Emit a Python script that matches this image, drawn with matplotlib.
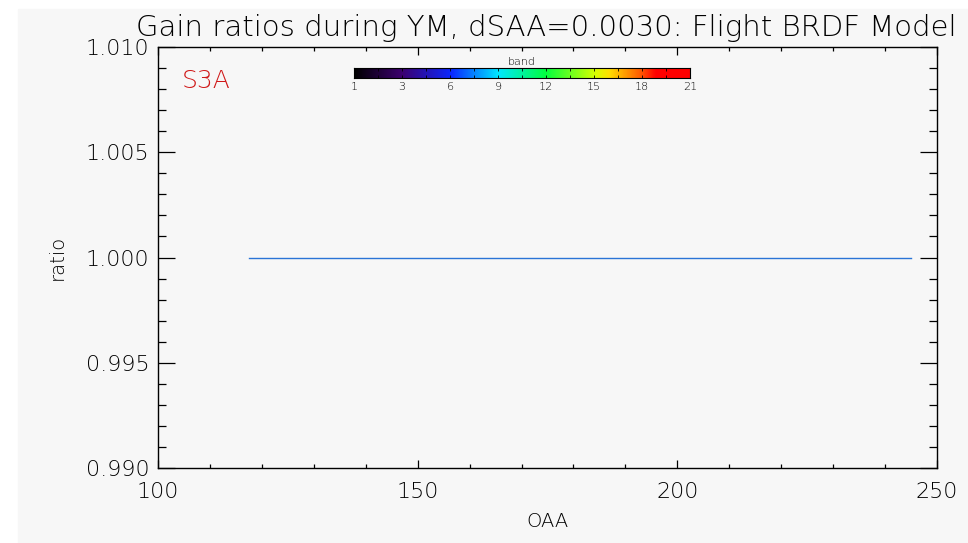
import numpy as np
import matplotlib
matplotlib.use('Agg')
import matplotlib.pyplot as plt
from matplotlib.patches import Rectangle
from matplotlib.colors import LinearSegmentedColormap
from matplotlib.ticker import MultipleLocator, FormatStrFormatter

# gain ratio vs OAA (all bands sit on 1.000)
oaa = [117.5, 245.0]
ratio = [1.000, 1.000]

band_ticks = [1, 3, 6, 9, 12, 15, 18, 21]
title = 'Gain ratios during YM, dSAA=0.0030: Flight BRDF Model'
sat = 'S3A'

plt.rcParams['font.family'] = ['DejaVu Sans']
plt.rcParams['font.weight'] = 200
plt.rcParams['axes.labelweight'] = 200
plt.rcParams['axes.titleweight'] = 200
bg = '#f7f7f7'

fig = plt.figure(figsize=(9.68, 5.43), dpi=100, facecolor='white')
fig.patches.append(Rectangle((18 / 968, 0), 950 / 968, 534 / 543,
                             transform=fig.transFigure, color=bg, zorder=-10))

ax = fig.add_axes([158 / 968, 75 / 543, 779 / 968, 421 / 543])
ax.set_facecolor(bg)
ax.plot(oaa, ratio, color='#2a74d6', lw=1.0)

ax.set_xlim(100, 250)
ax.set_ylim(0.990, 1.010)
ax.xaxis.set_major_locator(MultipleLocator(50))
ax.xaxis.set_minor_locator(MultipleLocator(10))
ax.yaxis.set_major_locator(MultipleLocator(0.005))
ax.yaxis.set_minor_locator(MultipleLocator(0.001))
ax.yaxis.set_major_formatter(FormatStrFormatter('%.3f'))
ax.tick_params(axis='both', which='both', direction='in', top=True, right=True,
               width=0.9, labelsize=16, colors='black')
ax.tick_params(axis='x', which='major', length=6, pad=10)
ax.tick_params(axis='x', which='minor', length=3.2)
ax.tick_params(axis='y', which='major', length=12, pad=6)
ax.tick_params(axis='y', which='minor', length=6)
for s in ax.spines.values():
    s.set_linewidth(1.0)

ax.set_xlabel('OAA', fontsize=14, labelpad=7)
ax.set_ylabel('ratio', fontsize=14, labelpad=14)
fig.text(546 / 968, 1 - 28 / 543, title, fontsize=21,
         ha='center', va='center')
ax.text(0.03, 0.92, sat, transform=ax.transAxes, color='#d01818',
        fontsize=18, ha='left', va='center')

# band colour bar
cmap = LinearSegmentedColormap.from_list('band', [
    (0.00, '#000000'), (0.14, '#3c006e'), (0.29, '#0a28ff'),
    (0.43, '#00e8ff'), (0.57, '#00ff40'), (0.72, '#d8ff00'),
    (0.76, '#ffe000'), (0.85, '#ff6000'), (0.90, '#ff0000'),
    (1.00, '#ff0000')])
cax = fig.add_axes([354 / 968, 1 - 78 / 543, 336 / 968, 10 / 543])
n = len(band_ticks) - 1
cax.imshow(np.linspace(0, 1, 256)[None, :], cmap=cmap, aspect='auto',
           extent=[0, n, 0, 1])
cax.set_xlim(0, n)
cax.set_yticks([])
cax.set_xticks(range(len(band_ticks)))
cax.set_xticklabels([str(b) for b in band_ticks], fontsize=8)
cax.xaxis.set_minor_locator(MultipleLocator(0.5))
cax.tick_params(axis='x', which='both', direction='in', top=True,
                length=2, width=0.6, pad=3)
for s in cax.spines.values():
    s.set_linewidth(0.8)
cax.set_title('band', fontsize=8, pad=2)

fig.savefig('out.png', dpi=100, facecolor='white')
